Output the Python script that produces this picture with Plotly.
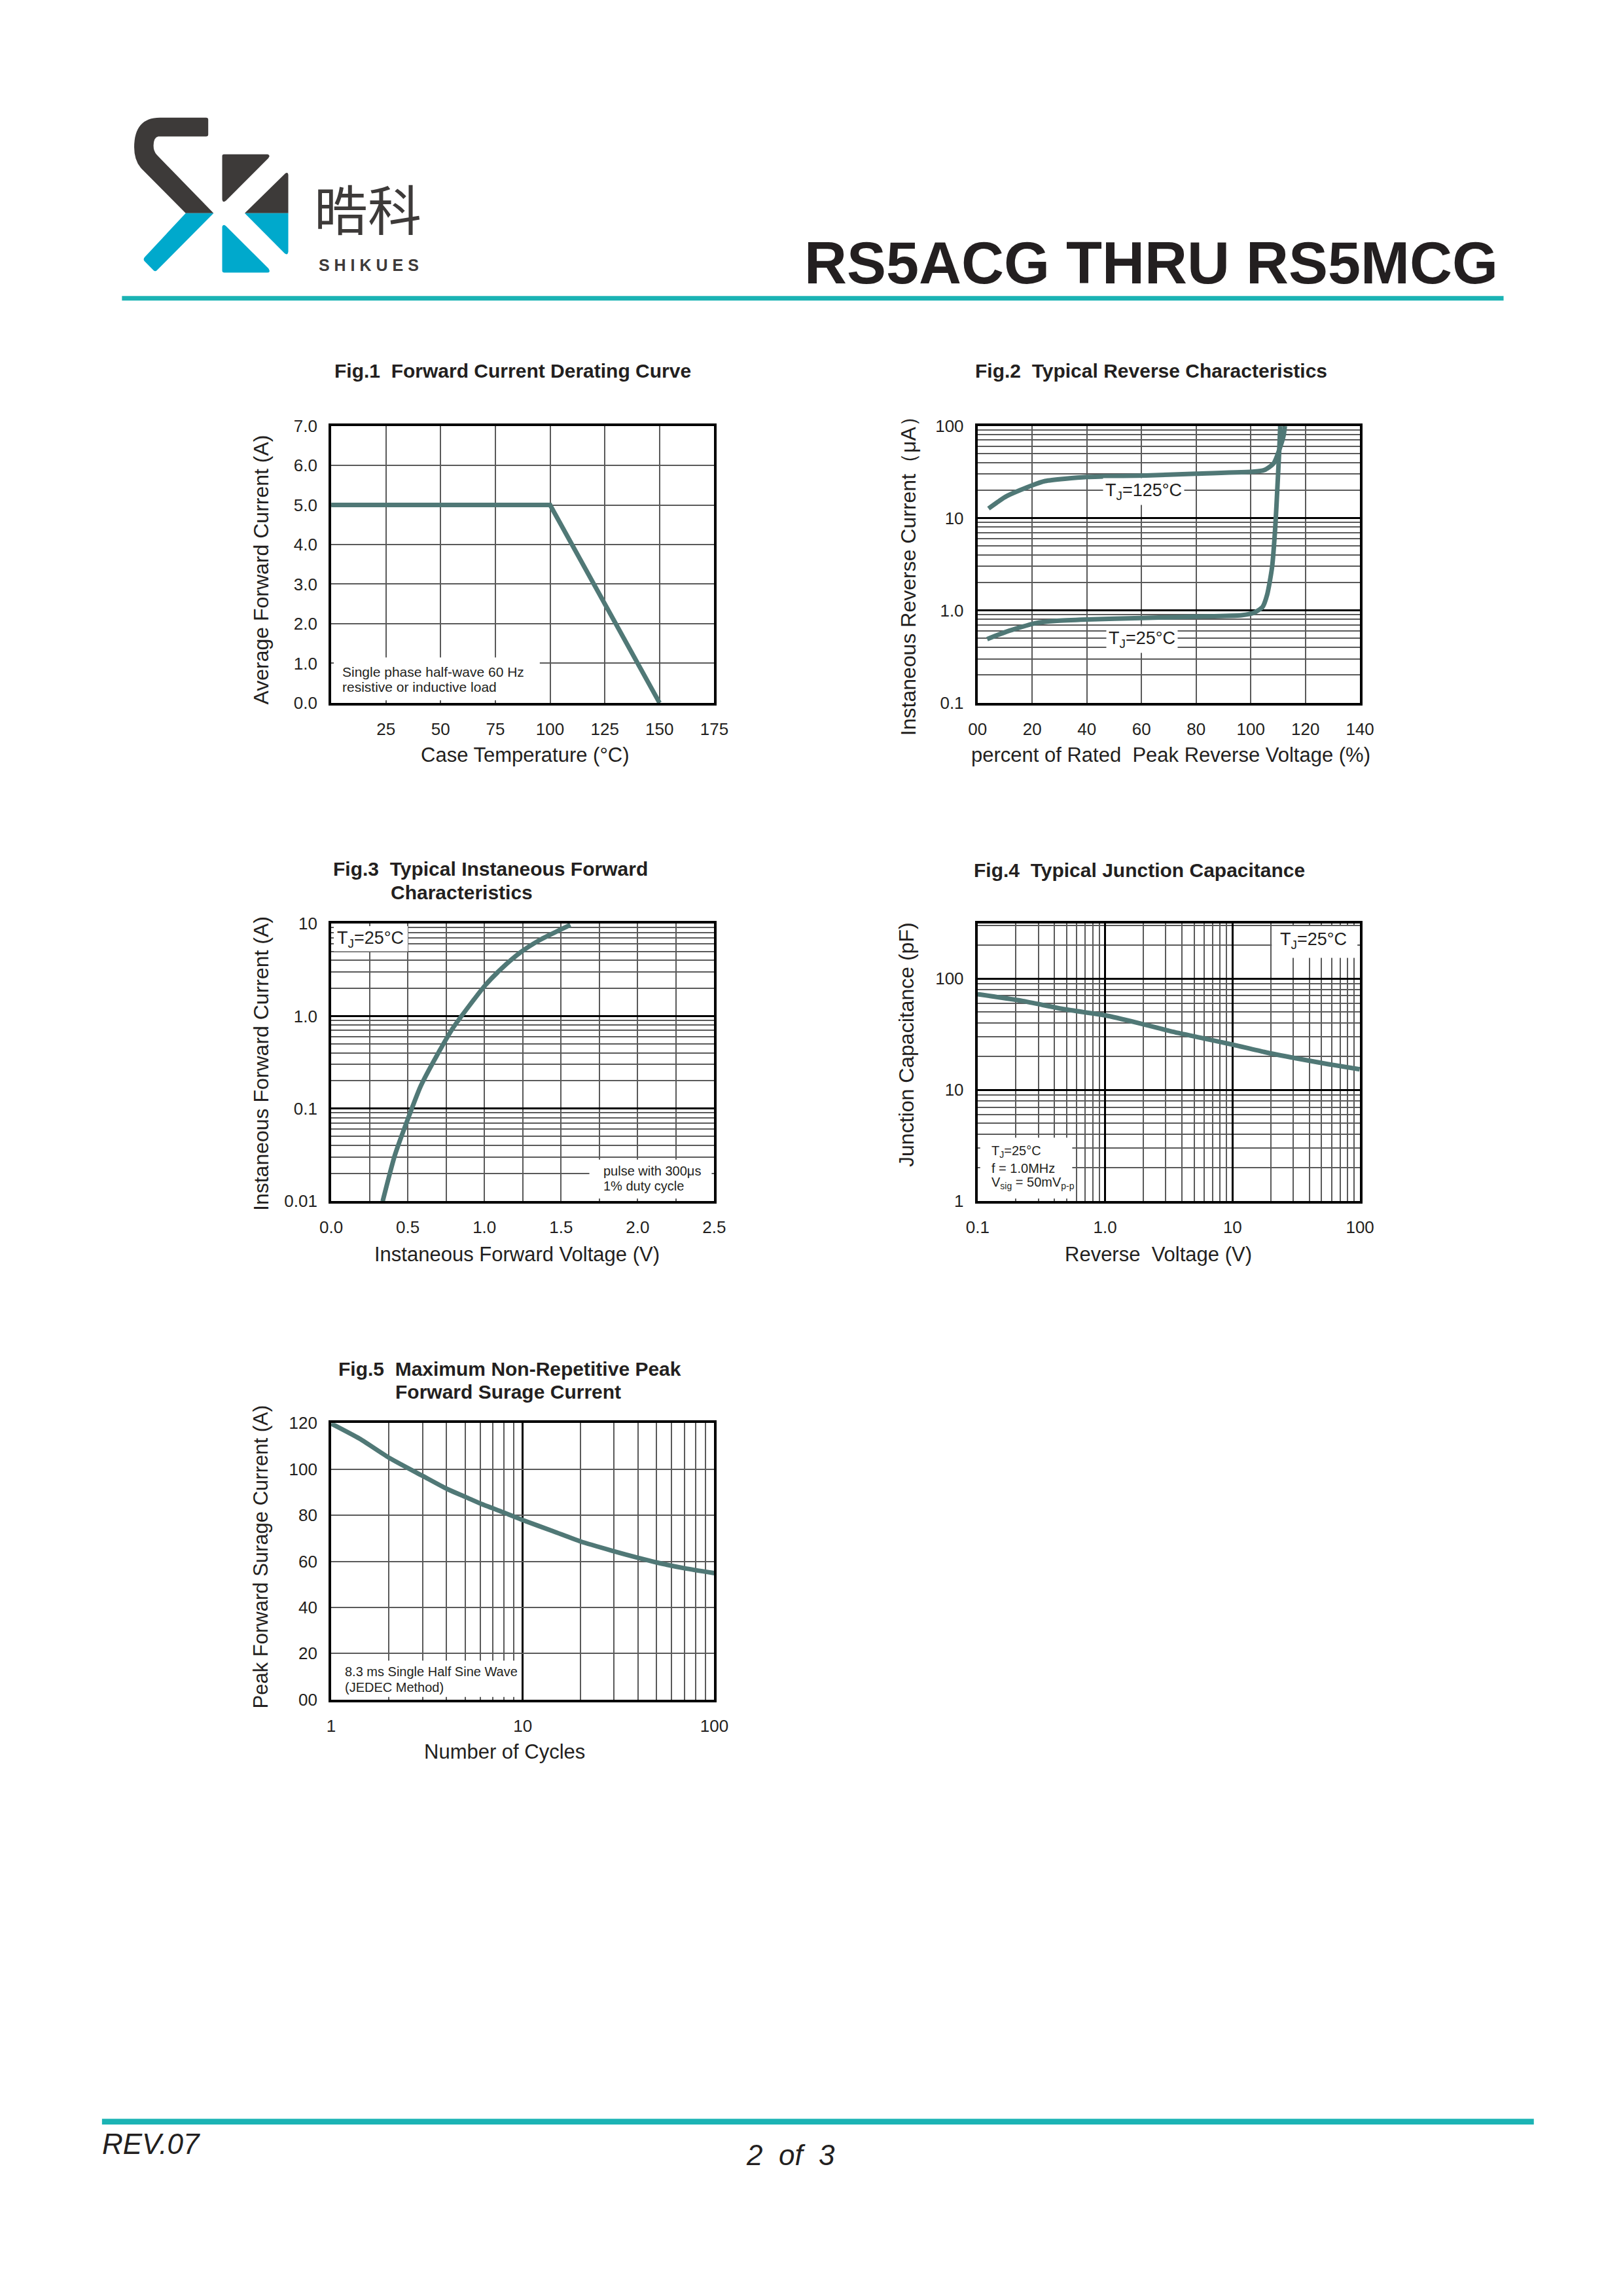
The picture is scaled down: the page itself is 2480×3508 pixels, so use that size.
import re
import plotly.graph_objects as go

# ---- values ----
fig1_temp = [0, 100, 150]
fig1_current = [5.0, 5.0, 0.0]
fig1_xticks = [25, 50, 75, 100, 125, 150, 175]
fig1_yticks = [0, 1, 2, 3, 4, 5, 6, 7]
fig1_ylabels = ["0.0", "1.0", "2.0", "3.0", "4.0", "5.0", "6.0", "7.0"]

fig2_v_125 = [4, 10.6, 20, 24.7, 40, 60, 80, 101.3, 104.9, 108.4, 110.8, 112, 112.5]
fig2_i_125 = [12.7, 17.3, 22.7, 25.2, 27.9, 28.8, 30.3, 31.9, 33.1, 39.2, 59, 77.6, 99]
fig2_v_25 = [3.5, 10.6, 21.2, 28.3, 40, 60, 80, 96.6, 101.3, 104.3, 106, 107.8, 109, 109.8, 110.4, 110.8]
fig2_i_25 = [0.49, 0.59, 0.73, 0.77, 0.80, 0.83, 0.86, 0.89, 0.95, 1.09, 1.48, 2.93, 8.15, 22.7, 51.5, 99]
fig2_xticks = [0, 20, 40, 60, 80, 100, 120, 140]
fig2_xlabels = ["00", "20", "40", "60", "80", "100", "120", "140"]
fig2_yticks = [0.1, 1, 10, 100]
fig2_ylabels = ["0.1", "1.0", "10", "100"]

fig3_vf = [0.336, 0.416, 0.5, 0.584, 0.689, 0.794, 0.899, 1.004, 1.109, 1.235, 1.361, 1.487, 1.561]
fig3_if = [0.01, 0.0316, 0.077, 0.175, 0.373, 0.74, 1.28, 2.14, 3.23, 4.87, 6.63, 8.43, 9.66]
fig3_xticks = [0, 0.5, 1.0, 1.5, 2.0, 2.5]
fig3_xlabels = ["0.0", "0.5", "1.0", "1.5", "2.0", "2.5"]
fig3_yticks = [0.01, 0.1, 1, 10]
fig3_ylabels = ["0.01", "0.1", "1.0", "10"]

fig4_vr = [0.1, 0.226, 0.481, 1.0, 1.83, 3.27, 5.86, 10, 17.7, 31.6, 56.6, 99.4]
fig4_cj = [72.3, 62.8, 52.9, 46.7, 39.8, 33.6, 29.1, 25.5, 21.9, 19.2, 17.0, 15.3]
fig4_xticks = [0.1, 1, 10, 100]
fig4_xlabels = ["0.1", "1.0", "10", "100"]
fig4_yticks = [1, 10, 100]
fig4_ylabels = ["1", "10", "100"]

fig5_cycles = [1, 1.41, 2.01, 3.0, 4.03, 5.04, 6.05, 8.02, 10, 14.4, 20.1, 29.9, 40, 50, 70, 100]
fig5_ipk = [119.8, 113.2, 104.9, 97.1, 91.4, 87.9, 85.0, 81.1, 77.9, 73.1, 68.6, 64.4, 61.5, 59.5, 57.0, 54.9]
fig5_xticks = [1, 10, 100]
fig5_xlabels = ["1", "10", "100"]
fig5_yticks = [0, 20, 40, 60, 80, 100, 120]
fig5_ylabels = ["00", "20", "40", "60", "80", "100", "120"]

# ---- page geometry (pixels on the 2480 x 3508 sheet) ----
# the page body keeps its default 8px margin, so the figure is 16px smaller
OFF = 8
W, H = 2480 - 2 * OFF, 3508 - 2 * OFF
CURVE = "#507876"
GRID = "#5a5a5a"
INK = "#231f20"
TEAL = "#1bb3b4"
LOGO_DARK = "#3d3a39"
LOGO_BLUE = "#00a9cc"
SANS = "Liberation Sans, Arial, sans-serif"


def px(x):
    return (x - OFF) / W


def py(y):
    return 1 - (y - OFF) / H


def minor_log(lo, hi, top=None):
    vals = [k * 10 ** d for d in range(lo, hi) for k in range(2, 10)]
    if top is not None:
        vals = [v for v in vals if v <= top]
    return vals


def axis(box_lr, **kw):
    d = dict(domain=[px(box_lr[0]), px(box_lr[1])], showline=True, mirror=True,
             linecolor="black", linewidth=4, showgrid=True, gridcolor=GRID,
             gridwidth=2, zeroline=False, ticks="", tickmode="array",
             tickfont=dict(family=SANS, size=26, color=INK), fixedrange=True)
    d.update(kw)
    return d


def yaxis(box_tb, **kw):
    d = axis((OFF, OFF), **kw)
    d["domain"] = [py(box_tb[1]), py(box_tb[0])]
    return d


# plot boxes: (left, right), (top, bottom)
LEFT_X, RIGHT_X = (496, 1091), (1500, 2094)
ROW1, ROW2, ROW3 = (641, 1068), (1408, 1836), (2178, 2604)

fig = go.Figure()
line = dict(color=CURVE, width=7, shape="spline", smoothing=0.6)

fig.add_trace(go.Scatter(x=fig1_temp, y=fig1_current, mode="lines",
                         line=dict(color=CURVE, width=7), xaxis="x", yaxis="y"))
fig.add_trace(go.Scatter(x=fig2_v_125, y=fig2_i_125, mode="lines", line=line,
                         xaxis="x2", yaxis="y2"))
fig.add_trace(go.Scatter(x=fig2_v_25, y=fig2_i_25, mode="lines", line=line,
                         xaxis="x2", yaxis="y2"))
fig.add_trace(go.Scatter(x=fig3_vf, y=fig3_if, mode="lines", line=line,
                         xaxis="x3", yaxis="y3"))
fig.add_trace(go.Scatter(x=fig4_vr, y=fig4_cj, mode="lines", line=line,
                         xaxis="x4", yaxis="y4"))
fig.add_trace(go.Scatter(x=fig5_cycles, y=fig5_ipk, mode="lines", line=line,
                         xaxis="x5", yaxis="y5"))

major = dict(gridcolor="black", gridwidth=2.5)
minor_grid = dict(showgrid=True, gridcolor=GRID, gridwidth=2, ticks="")
lbl_x = dict(ticklabelstandoff=14)
lbl_y = dict(ticklabelstandoff=12)

layout_axes = dict(
    xaxis=axis(LEFT_X, anchor="y", range=[0, 175], tickvals=fig1_xticks, **lbl_x),
    yaxis=yaxis(ROW1, anchor="x", range=[0, 7], tickvals=fig1_yticks,
                ticktext=fig1_ylabels, **lbl_y),
    xaxis2=axis(RIGHT_X, anchor="y2", range=[0, 140], tickvals=fig2_xticks,
                ticktext=fig2_xlabels, **lbl_x),
    yaxis2=yaxis(ROW1, anchor="x2", type="log", range=[-1, 2], tickvals=fig2_yticks,
                 ticktext=fig2_ylabels, minor=dict(tickvals=minor_log(-1, 2), **minor_grid),
                 **major, **lbl_y),
    xaxis3=axis(LEFT_X, anchor="y3", range=[0, 2.5], tickvals=fig3_xticks,
                ticktext=fig3_xlabels, minor=dict(dtick=0.25, **minor_grid), **lbl_x),
    yaxis3=yaxis(ROW2, anchor="x3", type="log", range=[-2, 1], tickvals=fig3_yticks,
                 ticktext=fig3_ylabels, minor=dict(tickvals=minor_log(-2, 1), **minor_grid),
                 **major, **lbl_y),
    xaxis4=axis(RIGHT_X, anchor="y4", type="log", range=[-1, 2], tickvals=fig4_xticks,
                ticktext=fig4_xlabels, minor=dict(tickvals=minor_log(-1, 2), **minor_grid),
                **major, **lbl_x),
    yaxis4=yaxis(ROW2, anchor="x4", type="log", range=[0, 2.494], tickvals=fig4_yticks,
                 ticktext=fig4_ylabels, minor=dict(tickvals=minor_log(0, 3, 300), **minor_grid),
                 **major, **lbl_y),
    xaxis5=axis(LEFT_X, anchor="y5", type="log", range=[0, 2], tickvals=fig5_xticks,
                ticktext=fig5_xlabels, minor=dict(tickvals=minor_log(0, 2), **minor_grid),
                **major, **lbl_x),
    yaxis5=yaxis(ROW3, anchor="x5", range=[0, 120], tickvals=fig5_yticks,
                 ticktext=fig5_ylabels, **lbl_y),
)

annotations = []


def text(x, y, s, size, family=SANS, color=INK, xanchor="center", angle=0, **kw):
    annotations.append(dict(x=px(x), y=py(y), xref="paper", yref="paper", text=s,
                            showarrow=False, xanchor=xanchor, yanchor="middle",
                            textangle=angle, font=dict(family=family, size=size, color=color),
                            **kw))


# header / footer
text(2310, 390, "<b>RS5ACG THRU RS5MCG</b>", 90, xanchor="right")
text(553, 304, "晧科", 82, family="Noto Sans CJK SC", color=LOGO_DARK)
text(554, 393, "<b>S H I K U E S</b>", 25, color=LOGO_DARK)
text(138, 3289, "<i>REV.07</i>", 44, xanchor="left")
text(1210, 3306, "<i>2  of  3</i>", 44)

# chart titles
text(778, 556, "<b>Fig.1  Forward Current Derating Curve</b>", 30)
text(1770, 556, "<b>Fig.2  Typical Reverse Characteristics</b>", 30)
text(497, 1324, "<b>Fig.3  Typical Instaneous Forward</b>", 30, xanchor="left")
text(586, 1360, "<b>Characteristics</b>", 30, xanchor="left")
text(1751, 1326, "<b>Fig.4  Typical Junction Capacitance</b>", 30)
text(773, 2094, "<b>Fig.5  Maximum Non-Repetitive Peak</b>", 30)
text(771, 2130, "<b>Forward Surage Current</b>", 30)

# axis titles
text(797, 1148, "Case Temperature (°C)", 31)
text(387, 863, "Average Forward Current (A)", 32, angle=-90)
text(1800, 1148, "percent of Rated  Peak Reverse Voltage (%)", 31)
text(1392, 865, "Instaneous Reverse Current（μA）", 32, angle=-90)
text(785, 1918, "Instaneous Forward Voltage (V)", 31)
text(387, 1624, "Instaneous Forward Current (A)", 32, angle=-90)
text(1781, 1918, "Reverse  Voltage (V)", 31)
text(1390, 1595, "Junction Capacitance (pF)", 32, angle=-90)
text(765, 2684, "Number of Cycles", 31)
text(387, 2384, "Peak Forward Surage Current (A)", 31, angle=-90)

# in-plot notes
text(511, 1020, "Single phase half-wave 60 Hz", 21, xanchor="left")
text(511, 1043, "resistive or inductive load", 21, xanchor="left")
text(1758, 742, "T<sub>J</sub>=125°C", 27, bgcolor="white", borderpad=3)
text(1755, 970, "T<sub>J</sub>=25°C", 27, bgcolor="white", borderpad=3)
text(557, 1432, "T<sub>J</sub>=25°C", 27)
text(917, 1789, "pulse with 300μs", 20, xanchor="left")
text(917, 1812, "1% duty cycle", 20, xanchor="left")
text(2022, 1434, "T<sub>J</sub>=25°C", 27)
text(1520, 1760, "T<sub>J</sub>=25°C", 20, xanchor="left")
text(1520, 1785, "f = 1.0MHz", 20, xanchor="left")
text(1520, 1808, "V<sub>sig</sub> = 50mV<sub>p-p</sub>", 20, xanchor="left")
text(515, 2561, "8.3 ms Single Half Sine Wave", 20, xanchor="left")
text(515, 2585, "(JEDEC Method)", 20, xanchor="left")

shapes = []


def rect(x0, y0, x1, y1, color="white"):
    shapes.append(dict(type="rect", xref="paper", yref="paper", x0=px(x0), x1=px(x1),
                       y0=py(y1), y1=py(y0), fillcolor=color, line=dict(width=0),
                       layer="above"))


# white note boxes that break the grid (kept inside the black frame)
rect(500, 998, 820, 1064)
rect(500, 1412, 615, 1451)
rect(897, 1772, 1087, 1832)
rect(1957, 1412, 2090, 1461)
rect(1504, 1738, 1647, 1832)
rect(500, 2544, 790, 2600)

# header / footer rules
rect(171, 441, 2317, 448, color=TEAL)
rect(140, 3250, 2364, 3259, color=TEAL)

# logo, traced in sheet pixels (crop origin 170,150, scale 1/3)
logo_parts = [
    ("M180,48 L395,48 Q405,48 405,58 L405,126 Q405,135 395,135 L172,135 Q150,140 150,178 "
     "Q150,205 166,221 L430,490 L300,490 L95,285 Q60,248 60,185 Q60,48 180,48 Z", LOGO_DARK),
    ("M300,490 L430,490 L166,754 Q158,762 150,754 L108,712 Q100,702 110,692 Z", LOGO_BLUE),
    ("M478,218 L682,218 Q696,222 685,236 L488,432 Q472,445 470,425 L470,226 Q470,218 478,218 Z",
     LOGO_DARK),
    ("M575,490 L764,306 Q778,298 778,316 L778,490 Z", LOGO_DARK),
    ("M575,490 L778,490 L778,668 Q775,688 760,675 Z", LOGO_BLUE),
    ("M470,552 Q476,538 488,550 L686,746 Q698,765 680,765 L480,765 Q470,765 470,755 Z", LOGO_BLUE),
]


def to_paper(m):
    cx, cy = float(m.group(1)), float(m.group(2))
    return "%.5f,%.5f" % (px(170 + cx / 3), py(150 + cy / 3))


for path, color in logo_parts:
    shapes.append(dict(type="path", xref="paper", yref="paper",
                       path=re.sub(r"(-?\d+\.?\d*),(-?\d+\.?\d*)", to_paper, path),
                       fillcolor=color, line=dict(width=0), layer="above"))

fig.update_layout(
    width=W, height=H,
    margin=dict(l=0, r=0, t=0, b=0),
    paper_bgcolor="white", plot_bgcolor="white",
    showlegend=False,
    annotations=annotations,
    shapes=shapes,
    **layout_axes,
)

fig.write_html("out.html", config={"displayModeBar": False})
